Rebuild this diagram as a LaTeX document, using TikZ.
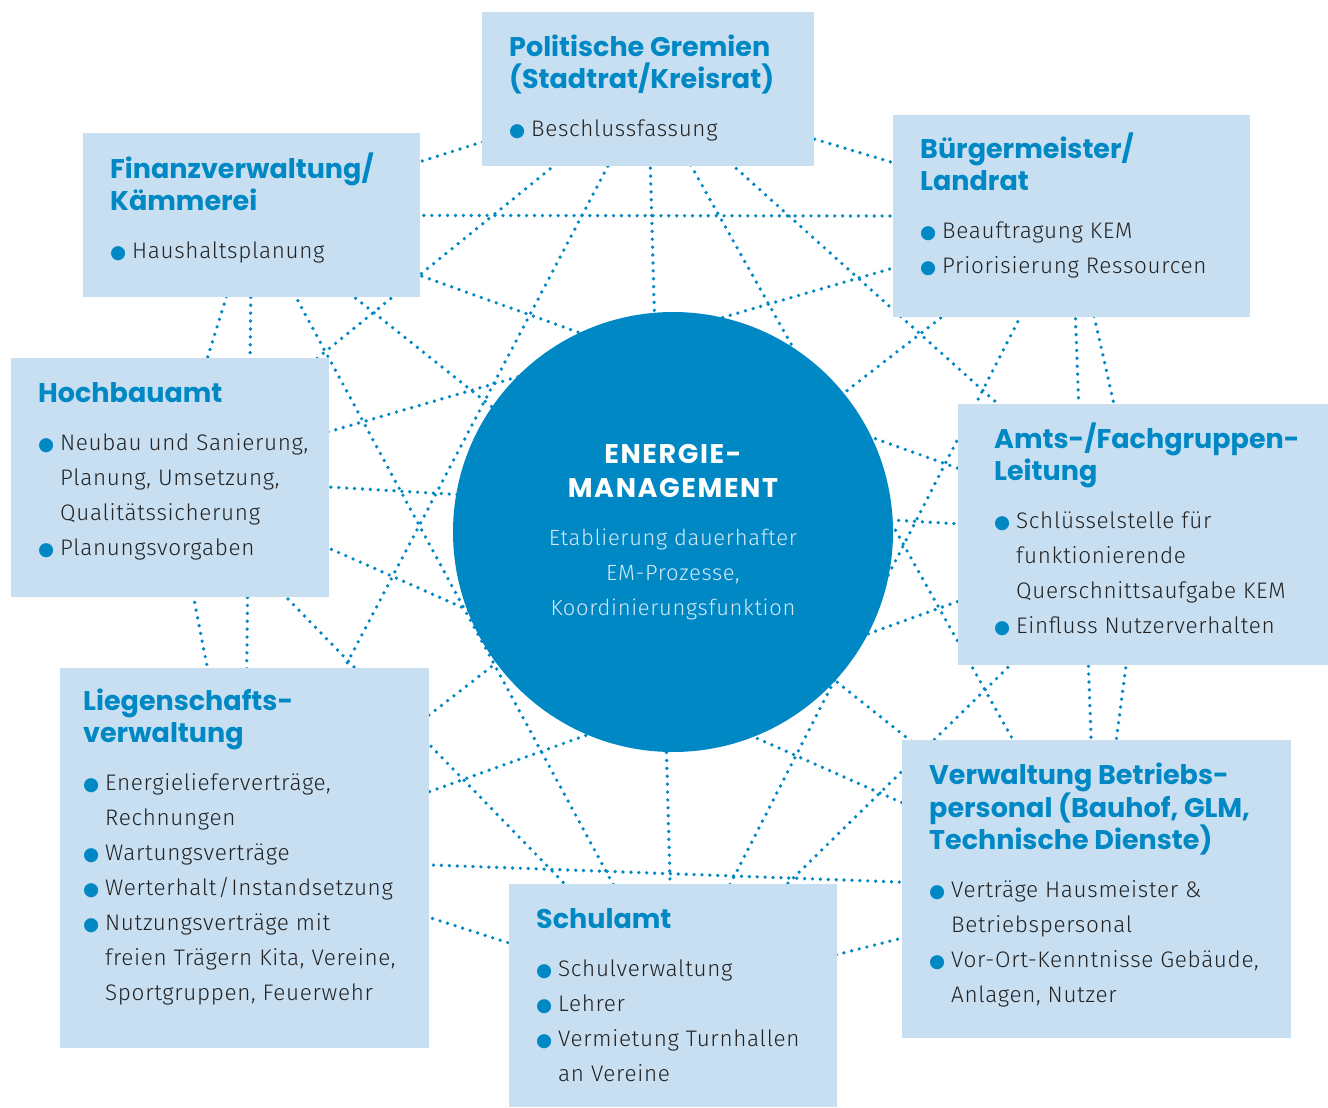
\documentclass[tikz,border=0pt]{standalone}
\usepackage{fontspec}
\setmainfont{Fira Sans}[UprightFont=* Light, LetterSpace=3]
\newfontfamily\titelfont{Poppins}
\newfontfamily\symbolfont{DejaVu Sans}
\usetikzlibrary{positioning}
\pgfdeclarelayer{background}
\pgfsetlayers{background,main}
\definecolor{emblau}{HTML}{0088C4}
\definecolor{kastenblau}{HTML}{C8DFF2}
\definecolor{textgrau}{HTML}{222222}
\definecolor{hellblau}{HTML}{D4E9F6}
\newcommand\abstand{\spaceskip=\fontdimen2\font\xspaceskip=\fontdimen2\font\relax}
\newcommand\titel[1]{{\titelfont\bfseries\color{emblau}\fontsize{27}{32}\selectfont\abstand #1\par}\vspace{13pt}}
\newcommand\punkte[1]{{\color{textgrau}\fontsize{22.5}{35}\selectfont\abstand #1\par}}
\newcommand\pkt{\makebox[22pt][l]{\textcolor{emblau}{\symbolfont\fontsize{18.5}{18}\selectfont ●}}}
\newcommand\ein{\hspace*{22pt}}
\tikzstyle{kasten} = [rectangle, fill=kastenblau, inner sep=0pt, anchor=north west]
\tikzstyle{inhalt} = [inner sep=0pt, text width=420pt, align=left]
\tikzstyle{zentrum} = [circle, fill=emblau, minimum size=440pt, inner sep=0pt, text width=320pt, align=center]
\tikzstyle{netz} = [emblau, line width=3.7pt, line cap=round, dash pattern=on 0pt off 7.9pt]

\begin{document}
\begin{tikzpicture}[x=1pt, y=-1pt]
        \useasboundingbox (0,0) rectangle (1328,1108);
        % Kaesten
        \node (pol) [kasten, minimum width=332pt, minimum height=154pt] at (482,12) {};
        \node (bgm) [kasten, minimum width=357pt, minimum height=202pt] at (893,115) {};
        \node (amt) [kasten, minimum width=370pt, minimum height=261pt] at (958,404) {};
        \node (vbp) [kasten, minimum width=389pt, minimum height=298pt] at (902,740) {};
        \node (sch) [kasten, minimum width=328pt, minimum height=223pt] at (509,884) {};
        \node (lie) [kasten, minimum width=369pt, minimum height=380pt] at (60,668) {};
        \node (hoc) [kasten, minimum width=318pt, minimum height=239pt] at (11,358) {};
        \node (fin) [kasten, minimum width=337pt, minimum height=164pt] at (83,133) {};
        \node (em) [zentrum] at (673,532) {{\titelfont\bfseries\color{white}\addfontfeature{LetterSpace=6}\fontsize{27}{34}\selectfont\abstand ENERGIE-\\MANAGEMENT\par}\vspace{13pt}{\color{hellblau}\fontsize{22}{35}\selectfont\abstand Etablierung dauerhafter\\EM-Prozesse,\\Koordinierungsfunktion\par}};
        % Texte
        \node (poltext) [inhalt, below right=23pt and 27pt of pol.north west] {\titel{Politische Gremien\\(Stadtrat/Kreisrat)}\punkte{\pkt Beschlussfassung}};
        \node (bgmtext) [inhalt, below right=18pt and 27pt of bgm.north west] {\titel{Bürgermeister/\\Landrat}\punkte{\pkt Beauftragung KEM\\\pkt Priorisierung Ressourcen}};
        \node (amttext) [inhalt, below right=19pt and 36pt of amt.north west] {\titel{Amts-/Fachgruppen-\\Leitung}\punkte{\pkt Schlüsselstelle für\\\ein funktionierende\\\ein Querschnittsaufgabe KEM\\\pkt Einfluss Nutzerverhalten}};
        \node (vbptext) [inhalt, below right=23pt and 27pt of vbp.north west] {\titel{Verwaltung Betriebs-\\personal (Bauhof, GLM,\\Technische Dienste)}\punkte{\pkt Verträge Hausmeister \&\\\ein Betriebspersonal\\\pkt Vor-Ort-Kenntnisse Gebäude,\\\ein Anlagen, Nutzer}};
        \node (schtext) [inhalt, below right=24pt and 27pt of sch.north west] {\titel{Schulamt}\punkte{\pkt Schulverwaltung\\\pkt Lehrer\\\pkt Vermietung Turnhallen\\\ein an Vereine}};
        \node (lietext) [inhalt, below right=21pt and 23pt of lie.north west] {\titel{Liegenschafts-\\verwaltung}\punkte{\pkt Energielieferverträge,\\\ein Rechnungen\\\pkt Wartungsverträge\\\pkt Werterhalt\kern1.5pt/\kern1.5pt Instandsetzung\\\pkt Nutzungsverträge mit\\\ein freien Trägern Kita, Vereine,\\\ein Sportgruppen, Feuerwehr}};
        \node (hoctext) [inhalt, below right=24pt and 27pt of hoc.north west] {\titel{Hochbauamt}\punkte{\pkt Neubau und Sanierung,\\\ein Planung, Umsetzung,\\\ein Qualitätssicherung\\\pkt Planungsvorgaben}};
        \node (fintext) [inhalt, below right=20pt and 27pt of fin.north west] {\titel{Finanzverwaltung/\\Kämmerei}\punkte{\pkt Haushaltsplanung}};
        % Netz hinter den Kaesten
        \begin{pgfonlayer}{background}
        \foreach \a/\rest in {pol/{bgm,amt,vbp,sch,lie,hoc,fin}, bgm/{amt,vbp,sch,lie,hoc,fin}, amt/{vbp,sch,lie,hoc,fin}, vbp/{sch,lie,hoc,fin}, sch/{lie,hoc,fin}, lie/{hoc,fin}, hoc/{fin}}
            \foreach \b in \rest
                \draw [netz] (\a.center) -- (\b.center);
        \end{pgfonlayer}
    \end{tikzpicture}
\end{document}
